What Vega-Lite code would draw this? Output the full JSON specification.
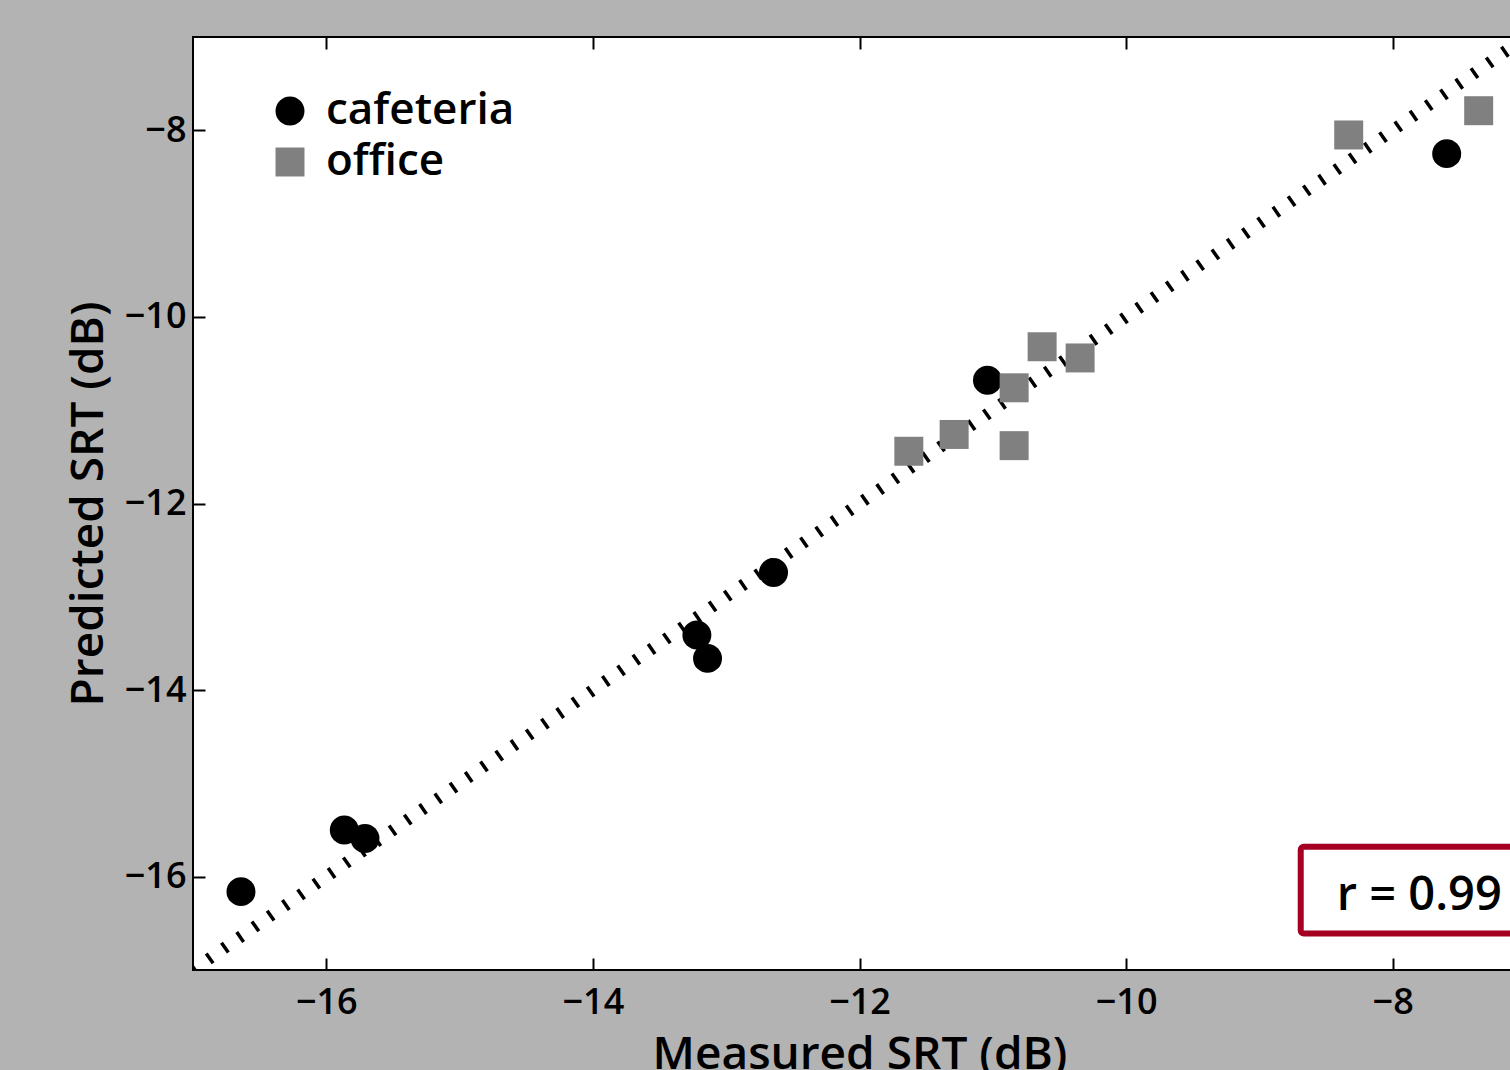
{
  "$schema": "https://vega.github.io/schema/vega-lite/v6.json",
  "autosize": {"type": "none"},
  "width": 1333,
  "height": 933,
  "padding": {"left": 193, "top": 37, "right": 0, "bottom": 100},
  "background": "#b3b3b3",
  "config": {
    "font": "Open Sans",
    "view": {"stroke": "black", "strokeWidth": 2, "fill": "white"},
    "axis": {"domain": false, "grid": false, "labelColor": "black", "titleColor": "black", "tickColor": "black", "tickWidth": 2, "labelFontWeight": 600}
  },
  "resolve": {"axis": {"x": "independent", "y": "independent"}},
  "layer": [
    {
      "data": {"values": [{"mx": -17, "py": -17}, {"mx": -7, "py": -7}]},
      "mark": {"type": "line", "color": "black", "strokeWidth": 12, "strokeDash": [3.5, 15.1], "strokeCap": "butt", "clip": true},
      "encoding": {
        "x": {"field": "mx", "type": "quantitative", "scale": {"domain": [-17, -7], "nice": false, "zero": false},
              "axis": {"orient": "top", "values": [-16, -14, -12, -10, -8], "labels": false, "tickSize": -12, "title": null}},
        "y": {"field": "py", "type": "quantitative", "scale": {"domain": [-17, -7], "nice": false, "zero": false},
              "axis": {"orient": "right", "values": [-16, -14, -12, -10, -8], "labels": false, "tickSize": -12, "title": null}}
      }
    },
    {
      "data": {"values": [
        {"room": "cafeteria", "measured": -16.64, "predicted": -16.16},
        {"room": "cafeteria", "measured": -15.865, "predicted": -15.50},
        {"room": "cafeteria", "measured": -15.71, "predicted": -15.59},
        {"room": "cafeteria", "measured": -13.22, "predicted": -13.41},
        {"room": "cafeteria", "measured": -13.14, "predicted": -13.66},
        {"room": "cafeteria", "measured": -12.645, "predicted": -12.74},
        {"room": "cafeteria", "measured": -11.04, "predicted": -10.68},
        {"room": "cafeteria", "measured": -7.595, "predicted": -8.25},
        {"room": "office", "measured": -11.63, "predicted": -11.44},
        {"room": "office", "measured": -11.29, "predicted": -11.26},
        {"room": "office", "measured": -10.84, "predicted": -10.76},
        {"room": "office", "measured": -10.84, "predicted": -11.38},
        {"room": "office", "measured": -10.63, "predicted": -10.32},
        {"room": "office", "measured": -10.345, "predicted": -10.44},
        {"room": "office", "measured": -8.33, "predicted": -8.05},
        {"room": "office", "measured": -7.355, "predicted": -7.79}
      ]},
      "mark": {"type": "point", "filled": true, "opacity": 1, "size": 840},
      "encoding": {
        "x": {"field": "measured", "type": "quantitative",
              "axis": {"orient": "bottom", "values": [-16, -14, -12, -10, -8], "ticks": false, "labelPadding": 15, "labelFontSize": 36,
                       "title": "Measured SRT (dB)", "titleFontSize": 46, "titleFontWeight": 600, "titlePadding": 12}},
        "y": {"field": "predicted", "type": "quantitative",
              "axis": {"orient": "left", "values": [-16, -14, -12, -10, -8], "ticks": false, "labelPadding": 7, "labelFontSize": 36,
                       "title": "Predicted SRT (dB)", "titleFontSize": 46, "titleFontWeight": 600, "titlePadding": 12}},
        "color": {"field": "room", "type": "nominal", "scale": {"domain": ["cafeteria", "office"], "range": ["black", "#808080"]},
                  "legend": {"title": null, "orient": "none", "legendX": 75, "legendY": 52, "labelFontSize": 44, "labelFontWeight": 600, "labelColor": "black", "labelLimit": 0,
                             "symbolSize": 840, "labelOffset": 14, "rowPadding": 7, "padding": 0, "symbolOpacity": 1, "symbolStrokeWidth": 0}},
        "shape": {"field": "room", "type": "nominal", "scale": {"domain": ["cafeteria", "office"], "range": ["circle", "square"]}}
      }
    },
    {
      "data": {"values": [{"x1": -8.69, "x2": -7.0, "y1": -15.68, "y2": -16.61}]},
      "mark": {"type": "rect", "fill": "white", "stroke": "#a50021", "strokeWidth": 6, "cornerRadius": 3},
      "encoding": {
        "x": {"field": "x1", "type": "quantitative",
              "axis": {"orient": "bottom", "values": [-16, -14, -12, -10, -8], "labels": false, "tickSize": -12, "title": null}},
        "x2": {"field": "x2"},
        "y": {"field": "y1", "type": "quantitative",
              "axis": {"orient": "left", "values": [-16, -14, -12, -10, -8], "labels": false, "tickSize": -12, "title": null}},
        "y2": {"field": "y2"}
      }
    },
    {
      "data": {"values": [{"tx": -8.42, "ty": -16.36, "label": "r = 0.99"}]},
      "mark": {"type": "text", "align": "left", "baseline": "alphabetic", "fontSize": 47, "fontWeight": 600, "color": "black"},
      "encoding": {
        "x": {"field": "tx", "type": "quantitative", "axis": null},
        "y": {"field": "ty", "type": "quantitative", "axis": null},
        "text": {"field": "label"}
      }
    }
  ]
}
